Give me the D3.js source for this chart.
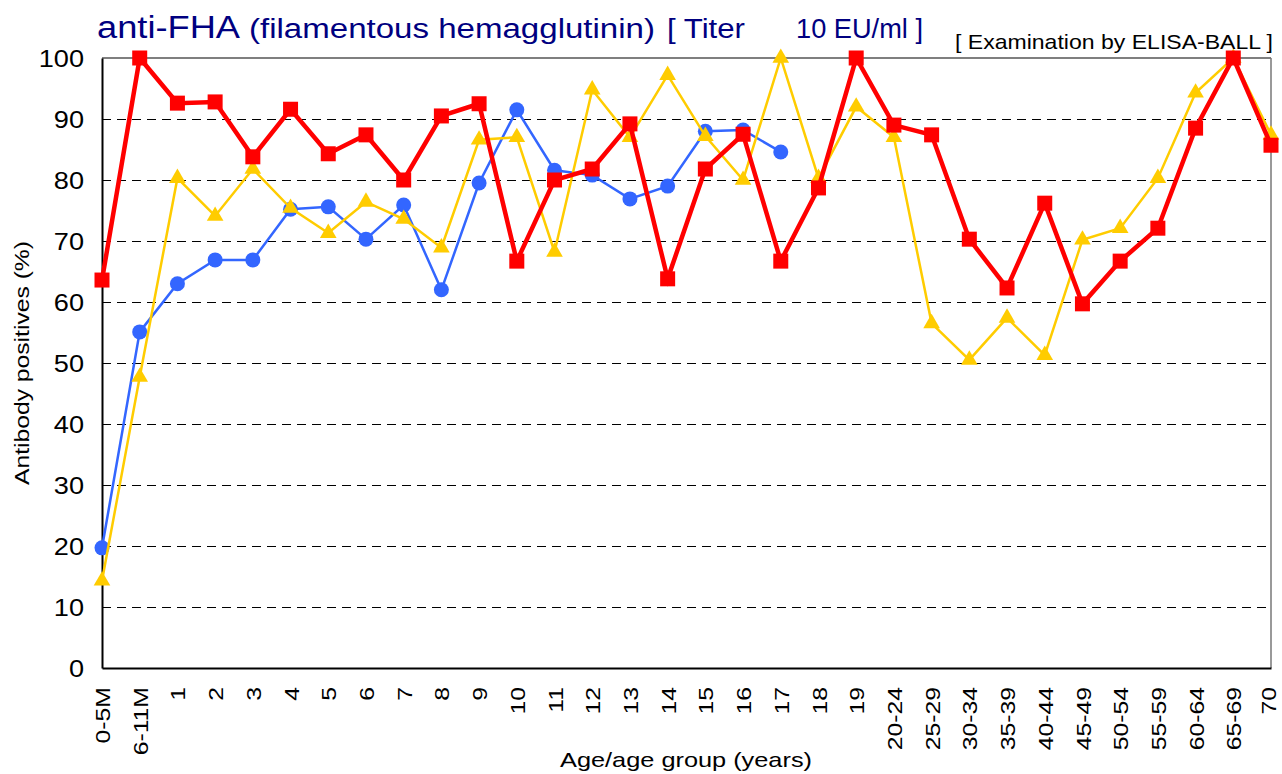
<!DOCTYPE html>
<html>
<head>
<meta charset="utf-8">
<style>
  body { margin: 0; background: #fff; }
  text { font-family: "Liberation Sans", Arial, sans-serif; }
</style>
</head>
<body>
<svg id="chart" width="1282" height="774"></svg>
<script src="https://d3js.org/d3.v7.min.js"></script>
<script>
// age groups on the x axis
var categories = ["0-5M", "6-11M", "1", "2", "3", "4", "5", "6", "7", "8", "9", "10",
  "11", "12", "13", "14", "15", "16", "17", "18", "19",
  "20-24", "25-29", "30-34", "35-39", "40-44", "45-49", "50-54", "55-59", "60-64", "65-69", "70"];

// red squares (thick line)
var redValues = [63.6, 100, 92.6, 92.8, 83.8, 91.6, 84.3, 87.4, 80.0, 90.5, 92.5, 66.7,
  80.0, 81.8, 89.2, 63.8, 81.8, 87.5, 66.7, 78.7, 100,
  89.0, 87.4, 70.3, 62.3, 76.2, 59.7, 66.7, 72.1, 88.5, 100, 85.7];

// blue circles (stops at 17)
var blueValues = [19.7, 55.1, 63.0, 66.9, 66.9, 75.2, 75.6, 70.3, 75.9, 62.0, 79.5, 91.5,
  81.6, 80.8, 76.9, 79.0, 88.0, 88.2, 84.6, null, null,
  null, null, null, null, null, null, null, null, null, null, null];

// yellow triangles
var yellowValues = [14.3, 47.7, 80.3, 74.1, 81.8, 75.4, 71.3, 76.4, 73.6, 68.9, 86.6, 87.0,
  68.2, 94.8, 87.0, 97.2, 87.2, 80.0, 100, 80.3, 92.0,
  87.0, 56.5, 50.5, 57.4, 51.3, 70.2, 72.1, 80.3, 94.3, 100, 87.4];

var yTicks = [0, 10, 20, 30, 40, 50, 60, 70, 80, 90, 100];

var margin = {top: 58, right: 11, bottom: 106, left: 102},
    width = 1282 - margin.left - margin.right,
    height = 774 - margin.top - margin.bottom;

var sx = 1.18; // the original text is drawn a little wide

var svg = d3.select("#chart");
var g = svg.append("g")
    .attr("transform", "translate(" + margin.left + "," + margin.top + ")");

var x = d3.scalePoint().domain(categories).range([0, width]).padding(0);
var y = d3.scaleLinear().domain([0, 100]).range([height, 0]);

// dashed grid
g.append("g")
    .attr("class", "grid")
    .call(d3.axisLeft(y).tickValues(yTicks.filter(function(d) { return d > 0 && d < 100; }))
      .tickSize(-width).tickFormat(""))
    .call(function(s) { s.select(".domain").remove(); })
  .selectAll("line")
    .attr("stroke", "#000")
    .attr("stroke-width", 1)
    .attr("stroke-dasharray", "9,6");

// frame top / right
g.append("line").attr("x1", 0).attr("x2", width).attr("y1", 0).attr("y2", 0)
    .attr("stroke", "#555").attr("stroke-width", 1.5);
g.append("line").attr("x1", width).attr("x2", width).attr("y1", 0).attr("y2", height)
    .attr("stroke", "#777").attr("stroke-width", 1.5);

// y axis
var yAx = g.append("g")
    .call(d3.axisLeft(y).tickValues(yTicks).tickSize(0));
yAx.select(".domain").attr("stroke", "#000").attr("stroke-width", 2);
yAx.selectAll("text")
    .attr("x", -18 / sx)
    .attr("dy", "0.36em")
    .attr("transform", "scale(" + sx + ",1)")
    .style("font-size", "23px")
    .style("font-family", "Liberation Sans, Arial, sans-serif")
    .attr("fill", "#000");

// x axis
var xAx = g.append("g")
    .attr("transform", "translate(0," + height + ")")
    .call(d3.axisBottom(x).tickSize(0));
xAx.select(".domain").attr("stroke", "#000").attr("stroke-width", 2);
xAx.selectAll("text")
    .attr("x", -19 / sx)
    .attr("y", 0)
    .attr("dy", function(d, i) { return i === categories.length - 1 ? "0.2em" : "0.36em"; })
    .attr("text-anchor", "end")
    .attr("transform", "rotate(-90) scale(" + sx + ",1)")
    .style("font-size", "21px")
    .style("font-family", "Liberation Sans, Arial, sans-serif")
    .attr("fill", "#000");

// axis titles
svg.append("text")
    .attr("transform", "translate(29," + (margin.top + height / 2) + ") rotate(-90)")
    .attr("text-anchor", "middle")
    .attr("textLength", 244).attr("lengthAdjust", "spacingAndGlyphs")
    .style("font-size", "21px")
    .text("Antibody positives (%)");

svg.append("text")
    .attr("x", 686).attr("y", 767)
    .attr("text-anchor", "middle")
    .attr("textLength", 252).attr("lengthAdjust", "spacingAndGlyphs")
    .style("font-size", "21px")
    .text("Age/age group (years)");

// title
var titleColor = "#000080";
svg.append("text").attr("x", 97).attr("y", 38)
    .attr("textLength", 143).attr("lengthAdjust", "spacingAndGlyphs")
    .style("font-size", "31px").attr("fill", titleColor).text("anti-FHA");
svg.append("text").attr("x", 249).attr("y", 38)
    .attr("textLength", 406).attr("lengthAdjust", "spacingAndGlyphs")
    .style("font-size", "27px").attr("fill", titleColor).text("(filamentous hemagglutinin)");
svg.append("text").attr("x", 667).attr("y", 38)
    .attr("textLength", 78).attr("lengthAdjust", "spacingAndGlyphs")
    .style("font-size", "27px").attr("fill", titleColor).text("[ Titer");
svg.append("text").attr("x", 796).attr("y", 38)
    .attr("textLength", 127).attr("lengthAdjust", "spacingAndGlyphs")
    .style("font-size", "27px").attr("fill", titleColor).text("10 EU/ml ]");
svg.append("text").attr("x", 955).attr("y", 49)
    .attr("textLength", 318).attr("lengthAdjust", "spacingAndGlyphs")
    .style("font-size", "21px").attr("fill", "#000").text("[ Examination by ELISA-BALL ]");

// series
function pts(values) {
  return values.map(function(v, i) { return {cat: categories[i], value: v}; });
}

var line = d3.line()
    .defined(function(d) { return d.value != null; })
    .x(function(d) { return x(d.cat); })
    .y(function(d) { return y(d.value); });

var blue = pts(blueValues).filter(function(d) { return d.value != null; });
var yellow = pts(yellowValues);
var red = pts(redValues);

g.append("path").datum(blue)
    .attr("fill", "none").attr("stroke", "#3366ff").attr("stroke-width", 2.5)
    .attr("d", line);
g.selectAll(".dot").data(blue).enter().append("circle")
    .attr("class", "dot")
    .attr("cx", function(d) { return x(d.cat); })
    .attr("cy", function(d) { return y(d.value); })
    .attr("r", 7.5)
    .attr("fill", "#3366ff");

g.append("path").datum(yellow)
    .attr("fill", "none").attr("stroke", "#ffcc00").attr("stroke-width", 2.5)
    .attr("d", line);
g.selectAll(".tri").data(yellow).enter().append("path")
    .attr("class", "tri")
    .attr("transform", function(d) { return "translate(" + x(d.cat) + "," + y(d.value) + ")"; })
    .attr("d", d3.symbol().type(d3.symbolTriangle).size(120))
    .attr("fill", "#ffcc00");

g.append("path").datum(red)
    .attr("fill", "none").attr("stroke", "#ff0000").attr("stroke-width", 4.5)
    .attr("stroke-linejoin", "miter")
    .attr("d", line);
g.selectAll(".sq").data(red).enter().append("rect")
    .attr("class", "sq")
    .attr("x", function(d) { return x(d.cat) - 7.5; })
    .attr("y", function(d) { return y(d.value) - 7.5; })
    .attr("width", 15).attr("height", 15)
    .attr("fill", "#ff0000");
</script>
</body>
</html>
